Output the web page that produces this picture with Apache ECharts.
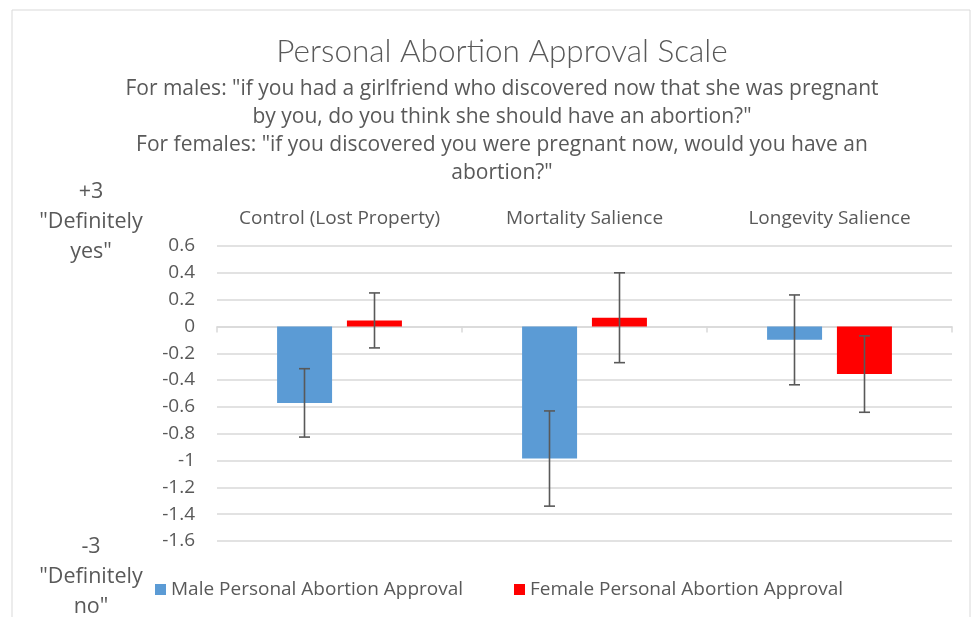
<!DOCTYPE html>
<html>
<head>
<meta charset="utf-8">
<script src="https://cdn.jsdelivr.net/npm/echarts@6/dist/echarts.min.js"></script>
<style>
  html, body { margin: 0; padding: 0; background: #fff; }
  #chart { width: 980px; height: 617px; }
</style>
</head>
<body>
<div id="chart"></div>
<script>
  // values
  var categories = ['Control (Lost Property)', 'Mortality Salience', 'Longevity Salience'];
  var maleValues = [-0.57, -0.985, -0.10];
  var maleErrors = [0.255, 0.355, 0.335];
  var femaleValues = [0.045, 0.065, -0.355];
  var femaleErrors = [0.205, 0.335, 0.285];
  var yTicks = { min: -1.6, max: 0.6, step: 0.2 };

  var FONT = '"Open Sans", "Noto Sans", sans-serif';
  var TITLE_FONT = 'Lato, "Open Sans", sans-serif';
  var GREY = '#595959';

  function errorSeries(name, values, errors, offset) {
    var data = values.map(function (v, i) { return [i, v, errors[i]]; });
    return {
      name: name + ' error',
      type: 'custom',
      xAxisIndex: 0,
      z: 10,
      silent: true,
      data: data,
      renderItem: function (params, api) {
        var idx = api.value(0);
        var mid = api.value(1);
        var err = api.value(2);
        var hi = api.coord([idx, mid + err]);
        var lo = api.coord([idx, mid - err]);
        var x = hi[0] + offset;
        var cap = 5.5;
        var style = { stroke: GREY, lineWidth: 1.6 };
        return {
          type: 'group',
          children: [
            { type: 'line', shape: { x1: x, y1: hi[1], x2: x, y2: lo[1] }, style: style },
            { type: 'line', shape: { x1: x - cap, y1: hi[1], x2: x + cap, y2: hi[1] }, style: style },
            { type: 'line', shape: { x1: x - cap, y1: lo[1], x2: x + cap, y2: lo[1] }, style: style }
          ]
        };
      }
    };
  }

  var chart = echarts.init(document.getElementById('chart'));

  chart.setOption({
    backgroundColor: '#fff',
    animation: false,
    textStyle: { fontFamily: FONT },
    title: {
      left: 497,
      top: 31,
      textAlign: 'center',
      text: 'Personal Abortion Approval Scale',
      subtext: 'For males: "if you had a girlfriend who discovered now that she was pregnant\nby you, do you think she should have an abortion?"\nFor females: "if you discovered you were pregnant now, would you have an\nabortion?"',
      itemGap: 7,
      textStyle: { fontFamily: TITLE_FONT, fontSize: 31.5, fontWeight: 300, color: GREY },
      subtextStyle: { fontFamily: FONT, fontSize: 21, color: GREY, lineHeight: 28 }
    },
    graphic: [
      {
        type: 'rect',
        shape: { x: 12, y: 10, width: 958, height: 640 },
        style: { fill: 'none', stroke: '#d9d9d9', lineWidth: 1 },
        silent: true
      },
      {
        type: 'text',
        x: 91, y: 177,
        style: {
          text: '+3\n"Definitely\nyes"',
          align: 'center',
          fontFamily: FONT, fontSize: 21.5, lineHeight: 30, fill: GREY
        }
      },
      {
        type: 'text',
        x: 91, y: 532,
        style: {
          text: '-3\n"Definitely\nno"',
          align: 'center',
          fontFamily: FONT, fontSize: 21.5, lineHeight: 30, fill: GREY
        }
      }
    ],
    legend: [
      {
        data: ['Male Personal Abortion Approval'],
        left: 150, top: 575,
        icon: 'rect', itemWidth: 11, itemHeight: 11,
        textStyle: { fontFamily: FONT, fontSize: 19, color: GREY }
      },
      {
        data: ['Female Personal Abortion Approval'],
        left: 509, top: 575,
        icon: 'rect', itemWidth: 11, itemHeight: 11,
        textStyle: { fontFamily: FONT, fontSize: 19, color: GREY }
      }
    ],
    grid: { left: 217, right: 28, top: 246, bottom: 76 },
    xAxis: [
      {
        type: 'category',
        data: categories,
        position: 'bottom',
        axisLine: { onZero: true, lineStyle: { color: '#d9d9d9', width: 1.5 } },
        axisTick: { show: true, interval: 0, length: 6, lineStyle: { color: '#d9d9d9', width: 1.5 } },
        axisLabel: { show: false }
      },
      {
        type: 'category',
        data: categories,
        position: 'top',
        axisLine: { show: false },
        axisTick: { show: false },
        axisLabel: { interval: 0, hideOverlap: false, margin: 18, fontFamily: FONT, fontSize: 19, color: GREY }
      }
    ],
    yAxis: {
      type: 'value',
      min: yTicks.min,
      max: yTicks.max,
      interval: yTicks.step,
      axisLine: { show: false },
      axisTick: { show: false },
      axisLabel: {
        margin: 22, fontFamily: FONT, fontSize: 19, color: GREY,
        formatter: function (v) { return String(Math.round(v * 10) / 10); }
      },
      splitLine: { lineStyle: { color: '#d9d9d9', width: 1.5 } }
    },
    series: [
      {
        name: 'Male Personal Abortion Approval',
        type: 'bar',
        data: maleValues,
        barWidth: 55,
        barGap: '27%',
        itemStyle: { color: '#5B9BD5' }
      },
      {
        name: 'Female Personal Abortion Approval',
        type: 'bar',
        data: femaleValues,
        barWidth: 55,
        barGap: '27%',
        itemStyle: { color: '#FF0000' }
      },
      errorSeries('Male', maleValues, maleErrors, -35),
      errorSeries('Female', femaleValues, femaleErrors, 35)
    ]
  });
</script>
</body>
</html>
